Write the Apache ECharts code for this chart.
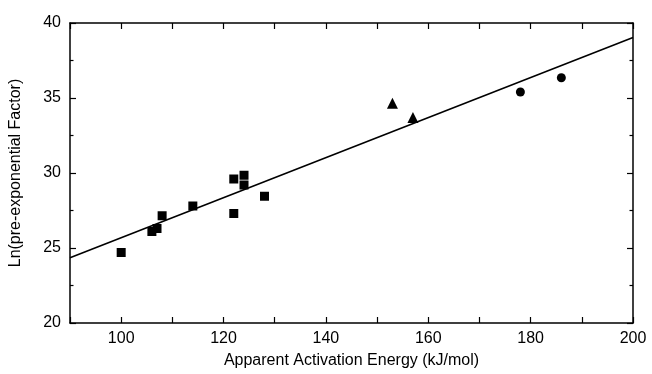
<!DOCTYPE html>
<html><head><meta charset="utf-8">
<script src="https://cdn.jsdelivr.net/npm/echarts@6/dist/echarts.min.js"></script>
<style>html,body{margin:0;padding:0;background:#fff}#c{width:652px;height:374px}</style>
</head><body><div id="c"></div>
<script>
const squareData = [[100,24.7],[106,26.1],[107,26.3],[108,27.15],[114,27.8],[122,29.6],[122,27.3],[124,29.85],[124,29.2],[128,28.45]];
const triangleData = [[153,34.65],[157,33.7]];
const circleData = [[178,35.4],[186,36.35]];
const fitLine = [[90,24.35],[200,39.03]];
const xTicks = [100,120,140,160,180,200];
const yTicks = [20,25,30,35,40];

const F = 'Liberation Sans, Arial, sans-serif';
const axisCommon = (show) => ({
  axisLine:{show:true,onZero:false,lineStyle:{color:'#000',width:1.5}},
  axisTick:{show:true,inside:true,length:6,lineStyle:{color:'#000',width:1.2}},
  minorTick:{show:true,splitNumber:2,length:3.5,lineStyle:{color:'#000',width:1.2}},
  splitLine:{show:false},
  axisLabel:{show:show,color:'#000',fontFamily:F,fontSize:16,margin:9}
});
const chart = echarts.init(document.getElementById('c'));
chart.setOption({
  animation:false,
  backgroundColor:'#fff',
  grid:{left:70,right:19,top:23,bottom:49},
  xAxis:[
    Object.assign({type:'value',min:90,max:200,interval:10,position:'bottom',
      name:'Apparent Activation Energy (kJ/mol)',nameLocation:'middle',nameGap:30,
      nameTextStyle:{color:'#000',fontFamily:F,fontSize:16}}, axisCommon(true),
      {axisLabel:{show:true,color:'#000',fontFamily:F,fontSize:16,margin:8,
        formatter:v=>xTicks.includes(v)?String(v):''},
       axisTick:{show:true,inside:true,length:6,interval:0,lineStyle:{color:'#000',width:1.2}},
       minorTick:{show:false}}),
    Object.assign({type:'value',min:90,max:200,interval:10,position:'top'}, axisCommon(false),
      {axisTick:{show:true,inside:true,length:6,lineStyle:{color:'#000',width:1.2}},minorTick:{show:false}})
  ],
  yAxis:[
    Object.assign({type:'value',min:20,max:40,interval:5,position:'left',
      name:'Ln(pre-exponential Factor)',nameLocation:'middle',nameGap:46,
      nameTextStyle:{color:'#000',fontFamily:F,fontSize:16}}, axisCommon(true),
      {axisLabel:{show:true,color:'#000',fontFamily:F,fontSize:16,margin:9,
        formatter:v=>yTicks.includes(v)?String(v):''}}),
    Object.assign({type:'value',min:20,max:40,interval:5,position:'right'}, axisCommon(false))
  ],
  series:[
    {type:'line',data:fitLine,symbol:'none',lineStyle:{color:'#000',width:1.6},z:1},
    {type:'scatter',data:squareData,symbol:'rect',symbolSize:9,itemStyle:{color:'#000',opacity:1},z:3},
    {type:'scatter',data:triangleData,symbol:'triangle',symbolSize:11,itemStyle:{color:'#000',opacity:1},z:3},
    {type:'scatter',data:circleData,symbol:'circle',symbolSize:9,itemStyle:{color:'#000',opacity:1},z:3}
  ]
});
</script></body></html>
